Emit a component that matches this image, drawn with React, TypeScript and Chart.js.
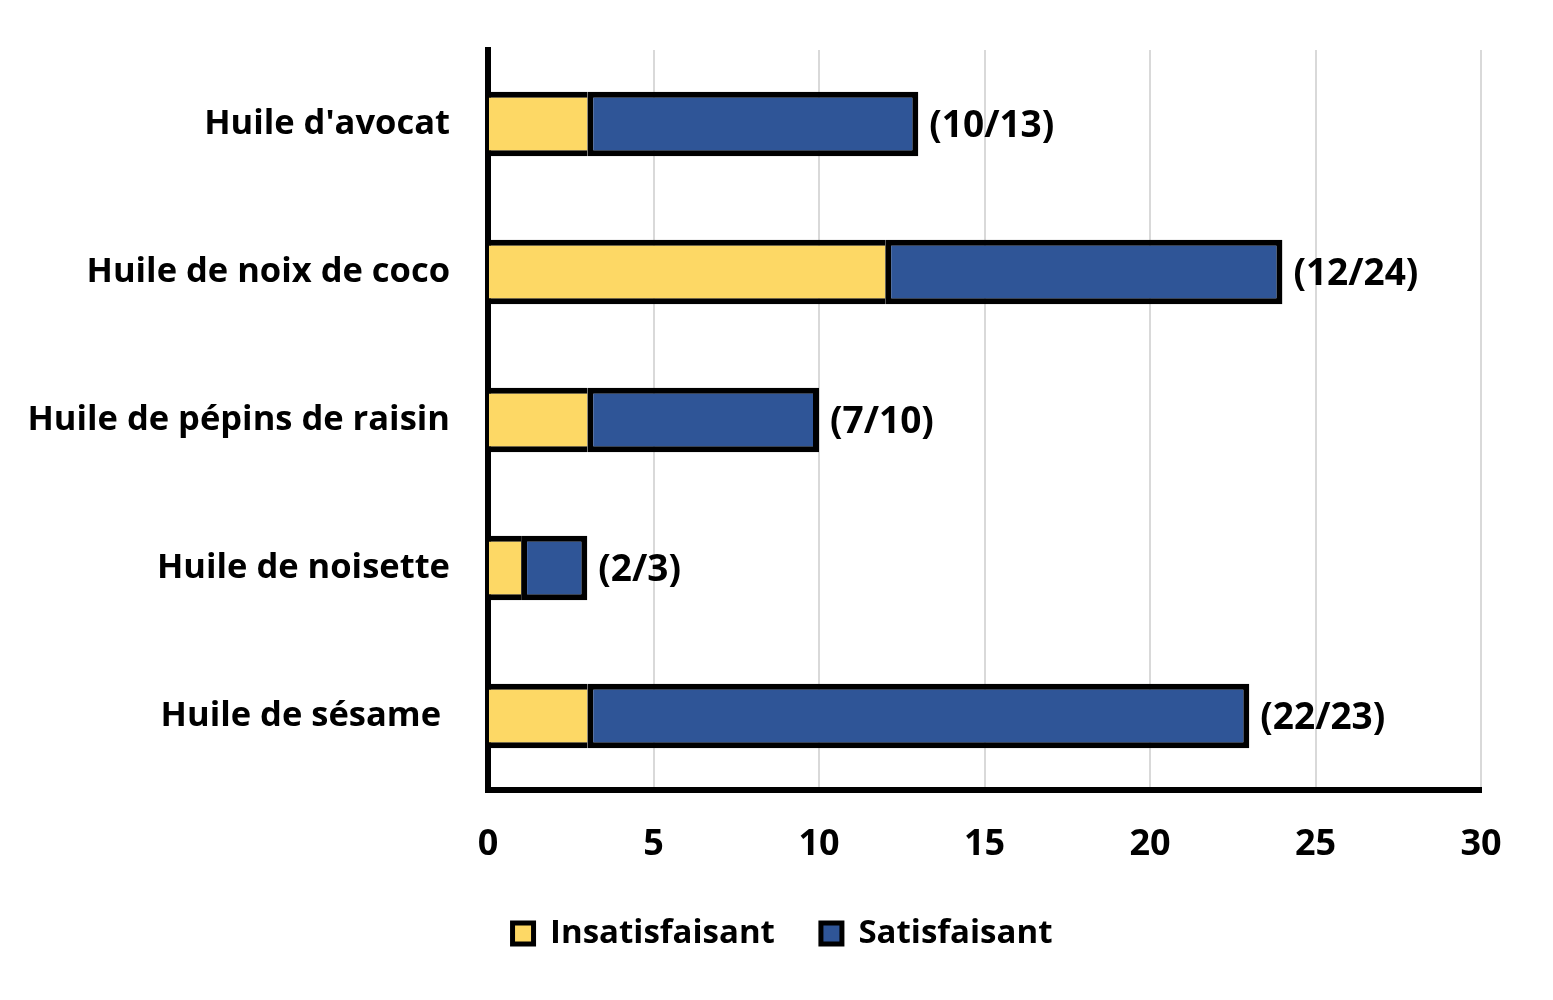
import React, { useEffect, useRef } from "react";
import Chart from "chart.js/auto";

const categories = [
  "Huile d'avocat",
  "Huile de noix de coco",
  "Huile de pépins de raisin",
  "Huile de noisette",
  "Huile de sésame ",
];
const insatisfaisant = [3, 12, 3, 1, 3];
const satisfaisant = [10, 12, 7, 2, 20];
const ratioLabels = ["(10/13)", "(12/24)", "(7/10)", "(2/3)", "(22/23)"];
const xTicks = [0, 5, 10, 15, 20, 25, 30];

const FONT = "'Open Sans', 'Noto Sans', sans-serif";

// writes the (n/total) text right after each stacked bar
const endLabels = {
  id: "endLabels",
  afterDatasetsDraw(chart: Chart) {
    const meta = chart.getDatasetMeta(chart.data.datasets.length - 1);
    const ctx = chart.ctx;
    ctx.save();
    ctx.font = `bold 37px ${FONT}`;
    ctx.fillStyle = "#000";
    ctx.textAlign = "left";
    ctx.textBaseline = "middle";
    meta.data.forEach((bar: any, i: number) => {
      ctx.fillText(ratioLabels[i], bar.x + 11, bar.y + 2);
    });
    ctx.restore();
  },
};

// the legend sits a little right of the plot centre in the original
const legendShift = {
  id: "legendShift",
  afterLayout(chart: any) {
    if (chart.legend) {
      chart.legend.left += 42;
      chart.legend.right += 42;
    }
  },
};

const App: React.FC = () => {
  const canvasRef = useRef<HTMLCanvasElement>(null);
  const chartRef = useRef<Chart | null>(null);

  useEffect(() => {
    document.body.style.margin = "0";
    if (!canvasRef.current) return;
    if (chartRef.current) chartRef.current.destroy();

    chartRef.current = new Chart(canvasRef.current, {
      type: "bar",
      data: {
        labels: categories,
        datasets: [
          {
            label: "Insatisfaisant",
            data: insatisfaisant,
            backgroundColor: "#FDD865",
            borderColor: "#000",
            borderWidth: { top: 6, bottom: 6, left: 0, right: 0 },
            borderSkipped: false,
            categoryPercentage: 0.5,
            barPercentage: 0.87,
          },
          {
            label: "Satisfaisant",
            data: satisfaisant,
            backgroundColor: "#2F5597",
            borderColor: "#000",
            borderWidth: 6,
            borderSkipped: false,
            categoryPercentage: 0.5,
            barPercentage: 0.87,
          },
        ],
      },
      options: {
        indexAxis: "y",
        responsive: false,
        animation: false,
        layout: { padding: { top: 50, right: 72, bottom: 40, left: 0 } },
        plugins: {
          legend: {
            position: "bottom",
            labels: {
              color: "#000",
              font: { family: FONT, size: 33, weight: "bold" },
              boxWidth: 21,
              boxHeight: 21,
              padding: 46,
              generateLabels: (chart: Chart) =>
                chart.data.datasets.map((ds: any, i: number) => ({
                  text: ds.label,
                  fillStyle: ds.backgroundColor,
                  strokeStyle: "#000",
                  lineWidth: 5,
                  hidden: false,
                  datasetIndex: i,
                  fontColor: "#000",
                })),
            },
          },
          tooltip: { enabled: false },
        },
        scales: {
          x: {
            stacked: true,
            min: 0,
            max: 30,
            afterBuildTicks: (scale: any) => {
              scale.ticks = xTicks.map((v) => ({ value: v }));
            },
            afterFit: (scale: any) => {
              scale.height = 81;
            },
            grid: { color: "#D9D9D9", lineWidth: 2, drawTicks: false },
            border: { color: "#000", width: 6 },
            ticks: {
              color: "#000",
              padding: 33,
              font: { family: FONT, size: 36, weight: "bold" },
            },
          },
          y: {
            stacked: true,
            afterFit: (scale: any) => {
              scale.width = 488;
              scale.paddingTop = 0;
              scale.paddingBottom = 0;
            },
            grid: { display: false, drawTicks: false },
            border: { color: "#000", width: 6 },
            ticks: {
              color: "#000",
              padding: 38,
              font: { family: FONT, size: 34.5, weight: "bold" },
            },
          },
        },
      },
      plugins: [endLabels, legendShift],
    });

    return () => {
      if (chartRef.current) {
        chartRef.current.destroy();
        chartRef.current = null;
      }
    };
  }, []);

  return (
    <div style={{ width: 1553, height: 1000, background: "#fff" }}>
      <canvas ref={canvasRef} width={1553} height={1000}></canvas>
    </div>
  );
};

export default App;
